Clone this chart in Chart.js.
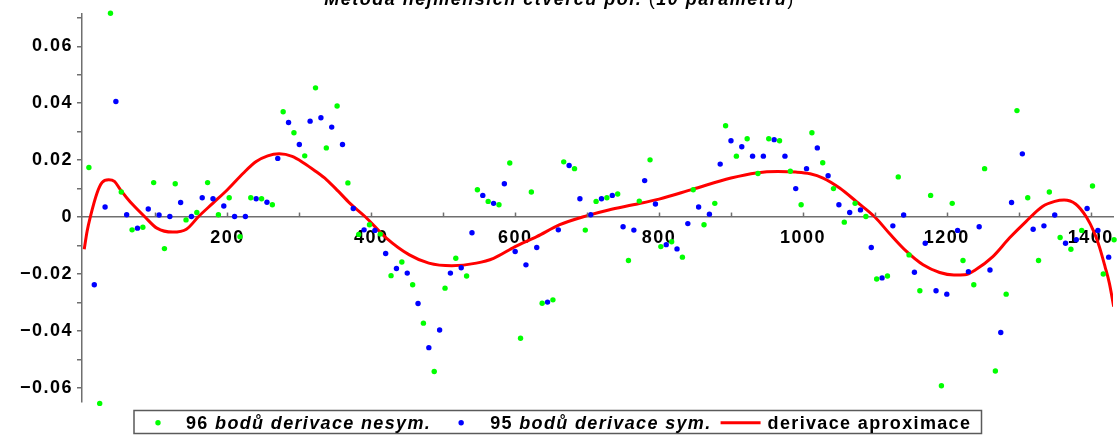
<!DOCTYPE html>
<html>
<head>
<meta charset="utf-8">
<script src="https://cdn.jsdelivr.net/npm/chart.js@4.4.1/dist/chart.umd.min.js"></script>
<style>
  html, body { margin: 0; padding: 0; background: #fff; overflow: hidden; }
  #wrap { position: relative; width: 1117px; height: 435px; }
</style>
</head>
<body>
<div id="wrap"><canvas id="chart"></canvas></div>
<script>
// ---- data -------------------------------------------------------------
const titleText = 'Metoda nejmenších čtverců pol. (10 parametrů)';

// non-symmetric difference derivative (midpoints of the sampling grid)
const nesymX = [7.5, 22.5, 37.5, 52.5, 67.5, 82.5, 97.5, 112.5, 127.5, 142.5, 157.5, 172.5,
  187.5, 202.5, 217.5, 232.5, 247.5, 262.5, 277.5, 292.5, 307.5, 322.5, 337.5, 352.5,
  367.5, 382.5, 397.5, 412.5, 427.5, 442.5, 457.5, 472.5, 487.5, 502.5, 517.5, 532.5,
  547.5, 562.5, 577.5, 592.5, 607.5, 622.5, 637.5, 652.5, 667.5, 682.5, 697.5, 712.5,
  727.5, 742.5, 757.5, 772.5, 787.5, 802.5, 817.5, 832.5, 847.5, 862.5, 877.5, 892.5,
  907.5, 922.5, 937.5, 952.5, 967.5, 982.5, 997.5, 1012.5, 1027.5, 1042.5, 1057.5, 1072.5,
  1087.5, 1102.5, 1117.5, 1132.5, 1147.5, 1162.5, 1177.5, 1192.5, 1207.5, 1222.5, 1237.5, 1252.5,
  1267.5, 1282.5, 1297.5, 1312.5, 1327.5, 1342.5, 1357.5, 1372.5, 1387.5, 1402.5, 1417.5, 1432.5];
const nesymY = [0.0174, -0.0655, 0.0716, 0.0088, -0.0045, -0.0036, 0.0121, -0.0111, 0.0117, -0.0010, 0.0016, 0.0121,
  0.0008, 0.0068, -0.0069, 0.0068, 0.0064, 0.0043, 0.0370, 0.0296, 0.0215, 0.0454, 0.0243, 0.0390,
  0.0120, -0.0061, -0.0027, -0.0060, -0.0206, -0.0158, -0.0238, -0.0373, -0.0543, -0.0250, -0.0145, -0.0207,
  0.0096, 0.0055, 0.0043, 0.0190, -0.0426, 0.0088, -0.0303, -0.0291, 0.0194, 0.0170, -0.0046, 0.0055,
  0.0068, 0.0081, -0.0153, 0.0056, 0.0201, -0.0104, -0.0087, -0.0141, 0.0096, -0.0027, 0.0048, 0.0321,
  0.0214, 0.0275, 0.0153, 0.0275, 0.0268, 0.0161, 0.0043, 0.0296, 0.0191, 0.0100, -0.0018, 0.0048,
  0.0002, -0.0218, -0.0207, 0.0141, -0.0133, -0.0259, 0.0076, -0.0593, 0.0048, -0.0153, -0.0238, 0.0170,
  -0.0541, -0.0271, 0.0374, 0.0068, -0.0153, 0.0088, -0.0072, -0.0113, -0.0047, 0.0109, -0.0200, -0.0080];

// symmetric difference derivative (inner grid points)
const symX = [15, 30, 45, 60, 75, 90, 105, 120, 135, 150, 165, 180, 195, 210, 225, 240,
  255, 270, 285, 300, 315, 330, 345, 360, 375, 390, 405, 420, 435, 450, 465, 480,
  495, 510, 525, 540, 555, 570, 585, 600, 615, 630, 645, 660, 675, 690, 705, 720,
  735, 750, 765, 780, 795, 810, 825, 840, 855, 870, 885, 900, 915, 930, 945, 960,
  975, 990, 1005, 1020, 1035, 1050, 1065, 1080, 1095, 1110, 1125, 1140, 1155, 1170, 1185, 1200,
  1215, 1230, 1245, 1260, 1275, 1290, 1305, 1320, 1335, 1350, 1365, 1380, 1395, 1410, 1425];
const symY = [-0.0238, 0.0035, 0.0406, 0.0008, -0.0039, 0.0028, 0.0007, 0.0002, 0.0051, 0.0002, 0.0068, 0.0064,
  0.0039, 0.0002, 0.0002, 0.0064, 0.0052, 0.0206, 0.0332, 0.0255, 0.0337, 0.0349, 0.0316, 0.0255,
  0.0030, -0.0045, -0.0047, -0.0128, -0.0181, -0.0197, -0.0304, -0.0459, -0.0397, -0.0197, -0.0178, -0.0055,
  0.0076, 0.0048, 0.0117, -0.0121, -0.0168, -0.0107, -0.0299, -0.0045, 0.0181, 0.0064, 0.0008, 0.0064,
  0.0076, -0.0034, -0.0046, 0.0128, 0.0046, -0.0097, -0.0112, -0.0023, 0.0035, 0.0010, 0.0186, 0.0268,
  0.0247, 0.0214, 0.0214, 0.0272, 0.0214, 0.0100, 0.0170, 0.0243, 0.0145, 0.0043, 0.0016, 0.0025,
  -0.0107, -0.0214, -0.0031, 0.0007, -0.0194, -0.0092, -0.0259, -0.0271, -0.0047, -0.0192, -0.0034, -0.0186,
  -0.0406, 0.0051, 0.0222, -0.0043, -0.0031, 0.0007, -0.0092, -0.0080, 0.0030, -0.0047, -0.0141];

// derivative of the least-squares polynomial, sampled along the curve
const aproxX = [1, 5, 9.4, 18.7, 25.6, 35, 43, 51, 60, 69, 85.5, 102, 124, 143, 160, 180,
  200, 222, 240, 256, 272, 290, 306, 322, 338, 354, 370, 392, 421, 453, 480, 512,
  546, 570, 600, 630, 662, 700, 730, 764, 800, 847, 900, 935, 965, 990, 1010, 1028,
  1051, 1074, 1100, 1120, 1144, 1167, 1190, 1210, 1225, 1240, 1264, 1287, 1310, 1333,
  1350, 1363, 1379, 1394, 1405, 1412, 1420, 1426, 1432];
const aproxY = [-0.0113, -0.0050, 0.0000, 0.0084, 0.0121, 0.0131, 0.0125, 0.0097, 0.0068, 0.0042, 0.0000, -0.0039, -0.0053, -0.0043, 0.0002, 0.0049,
  0.0096, 0.0154, 0.0195, 0.0215, 0.0222, 0.0213, 0.0190, 0.0162, 0.0131, 0.0091, 0.0049, 0.0000, -0.0074, -0.0133, -0.0162, -0.0171,
  -0.0162, -0.0145, -0.0104, -0.0069, -0.0027, 0.0005, 0.0025, 0.0043, 0.0063, 0.0098, 0.0137, 0.0155, 0.0160, 0.0158, 0.0152, 0.0137,
  0.0102, 0.0055, 0.0000, -0.0057, -0.0121, -0.0168, -0.0195, -0.0204, -0.0203, -0.0185, -0.0139, -0.0074, -0.0016, 0.0037,
  0.0055, 0.0060, 0.0046, 0.0000, -0.0055, -0.0104, -0.0175, -0.0233, -0.0315];

// axis ticks and their labels
const xTickValues = [100, 200, 300, 400, 500, 600, 700, 800, 900, 1000, 1100, 1200, 1300, 1400];
const xTickLabels = ['', '200', '', '400', '', '600', '', '800', '', '1000', '', '1200', '', '1400'];
const yTickValues = [-0.06, -0.05, -0.04, -0.03, -0.02, -0.01, 0, 0.01, 0.02, 0.03, 0.04, 0.05, 0.06, 0.07];
const yTickLabels = ['\u22120.06', '', '\u22120.04', '', '\u22120.02', '', '0', '', '0.02', '', '0.04', '', '0.06', ''];

// ---- styling ----------------------------------------------------------
const FONT = '"Liberation Sans", Arial, Helvetica, sans-serif';
const AXIS = '#6f6f6f';
const GREEN = '#00ff00';
const BLUE = '#0000ff';
const RED = '#ff0000';
const SPACING = '1.5px';
const LEGEND_SPACING = '1.35px';

const pairs = (xs, ys) => xs.map((x, i) => ({ x: x, y: ys[i] }));

// wide lettering for every text drawn on the canvas
const spacingPlugin = {
  id: 'spacing',
  beforeLayout(chart) { chart.ctx.letterSpacing = SPACING; },
  beforeDraw(chart) { chart.ctx.letterSpacing = SPACING; }
};

// short tick marks pointing up from the horizontal axis
const xTickMarks = {
  id: 'xTickMarks',
  afterDraw(chart) {
    const xs = chart.scales.x, ys = chart.scales.y, ctx = chart.ctx;
    const y0 = ys.getPixelForValue(0);
    ctx.save();
    ctx.strokeStyle = AXIS;
    ctx.lineWidth = 1.5;
    xTickValues.forEach(v => {
      const px = Math.round(xs.getPixelForValue(v)) + 0.5;
      ctx.beginPath();
      ctx.moveTo(px, y0);
      ctx.lineTo(px, y0 - 4.5);
      ctx.stroke();
    });
    ctx.restore();
  }
};

// title with upright parentheses
const titlePlugin = {
  id: 'plotTitle',
  afterDraw(chart) {
    const ctx = chart.ctx;
    const open = titleText.indexOf('('), close = titleText.lastIndexOf(')');
    const segs = [
      [titleText.slice(0, open), 'italic bold'],
      ['(', 'normal'],
      [titleText.slice(open + 1, close), 'italic bold'],
      [')', 'normal']
    ];
    ctx.save();
    ctx.letterSpacing = SPACING;
    ctx.fillStyle = '#000';
    ctx.textBaseline = 'alphabetic';
    ctx.textAlign = 'left';
    let total = 0;
    segs.forEach(s => { ctx.font = s[1] + ' 18px ' + FONT; total += ctx.measureText(s[0]).width; });
    let x = chart.width / 2 + 1 - total / 2;
    segs.forEach(s => {
      ctx.font = s[1] + ' 18px ' + FONT;
      ctx.fillText(s[0], x, 5);
      x += ctx.measureText(s[0]).width;
    });
    ctx.restore();
  }
};

// boxed legend along the bottom edge
const legendPlugin = {
  id: 'boxLegend',
  afterDraw(chart) {
    const ctx = chart.ctx;
    const ds = chart.data.datasets;
    const box = { left: 134, top: 410.5, right: 981.5, bottom: 433.5 };
    const cy = 422.7, base = 428.5;
    ctx.save();
    ctx.letterSpacing = LEGEND_SPACING;
    ctx.strokeStyle = '#5a5a5a';
    ctx.lineWidth = 1.5;
    ctx.strokeRect(box.left, box.top, box.right - box.left, box.bottom - box.top);
    ctx.fillStyle = '#000';
    ctx.textBaseline = 'alphabetic';
    ctx.textAlign = 'left';

    const drawLabel = (label, x0, split) => {
      let x = x0;
      if (split) {
        const sp = label.indexOf(' ');
        ctx.font = 'bold 18px ' + FONT;
        ctx.fillText(label.slice(0, sp + 1), x, base);
        x += ctx.measureText(label.slice(0, sp + 1)).width;
        ctx.font = 'italic bold 18px ' + FONT;
        ctx.fillText(label.slice(sp + 1), x, base);
        x += ctx.measureText(label.slice(sp + 1)).width;
      } else {
        ctx.font = 'bold 18px ' + FONT;
        ctx.fillText(label, x, base);
        x += ctx.measureText(label).width;
      }
      return x;
    };

    let x = box.left + 24;
    ctx.fillStyle = ds[0].backgroundColor;
    ctx.beginPath(); ctx.arc(x, cy, 2.7, 0, Math.PI * 2); ctx.fill();
    ctx.fillStyle = '#000';
    x = drawLabel(ds[0].label, x + 28, true);

    x += 30;
    ctx.fillStyle = ds[1].backgroundColor;
    ctx.beginPath(); ctx.arc(x, cy, 2.7, 0, Math.PI * 2); ctx.fill();
    ctx.fillStyle = '#000';
    x = drawLabel(ds[1].label, x + 29, true);

    x += 9;
    ctx.strokeStyle = ds[2].borderColor;
    ctx.lineWidth = 3;
    ctx.beginPath(); ctx.moveTo(x, cy); ctx.lineTo(x + 40, cy); ctx.stroke();
    drawLabel(ds[2].label, x + 47, false);
    ctx.restore();
  }
};

new Chart(document.getElementById('chart'), {
  type: 'scatter',
  data: {
    datasets: [
      {
        label: '96 bodů derivace nesym.',
        data: pairs(nesymX, nesymY),
        backgroundColor: GREEN,
        borderWidth: 0,
        pointRadius: 2.7,
        clip: false,
        order: 0
      },
      {
        label: '95 bodů derivace sym.',
        data: pairs(symX, symY),
        backgroundColor: BLUE,
        borderWidth: 0,
        pointRadius: 2.7,
        clip: false,
        order: 1
      },
      {
        label: 'derivace aproximace',
        data: pairs(aproxX, aproxY),
        showLine: true,
        borderColor: RED,
        backgroundColor: RED,
        borderWidth: 3,
        pointRadius: 0,
        cubicInterpolationMode: 'monotone',
        fill: false,
        order: 2
      }
    ]
  },
  options: {
    responsive: true,
    maintainAspectRatio: false,
    animation: false,
    events: [],
    layout: { padding: { top: 13.3, bottom: 33.3, left: 0, right: 0 } },
    plugins: {
      legend: { display: false },
      tooltip: { enabled: false },
      title: { display: false }
    },
    scales: {
      x: {
        type: 'linear',
        position: { y: 0 },
        min: -2.1,
        max: 1431,
        z: 1,
        afterBuildTicks(scale) { scale.ticks = xTickValues.map(v => ({ value: v })); },
        afterFit(scale) { scale.paddingLeft = 0; scale.paddingRight = 0; },
        grid: { display: false, drawTicks: false, drawOnChartArea: false },
        border: { display: true, color: AXIS, width: 1.5 },
        ticks: {
          autoSkip: false,
          maxRotation: 0,
          padding: 10,
          color: '#000',
          font: { family: FONT, size: 18, weight: 'bold' },
          callback: (v, i) => xTickLabels[i]
        }
      },
      y: {
        type: 'linear',
        position: 'left',
        min: -0.0649,
        max: 0.0716,
        afterFit(scale) { scale.width = 82; scale.paddingTop = 0; scale.paddingBottom = 0; },
        afterBuildTicks(scale) { scale.ticks = yTickValues.map(v => ({ value: v })); },
        grid: { display: true, drawOnChartArea: false, drawTicks: true, tickLength: 5, color: AXIS, lineWidth: 1.5 },
        border: { display: true, color: AXIS, width: 1.5 },
        ticks: {
          autoSkip: false,
          padding: 4,
          color: '#000',
          font: { family: FONT, size: 18, weight: 'bold' },
          callback: (v, i) => yTickLabels[i]
        }
      }
    }
  },
  plugins: [spacingPlugin, xTickMarks, titlePlugin, legendPlugin]
});
</script>
</body>
</html>
